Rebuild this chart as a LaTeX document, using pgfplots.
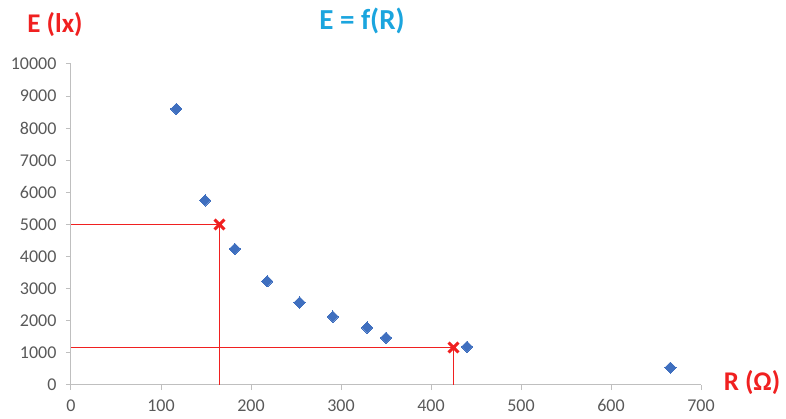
\documentclass[border=0pt]{standalone}
\usepackage{fontspec}
\setmainfont{Carlito}
\usepackage{pgfplots}
\pgfplotsset{compat=1.18}
\definecolor{ptblue}{HTML}{3F6FBF}
\definecolor{linered}{HTML}{F02020}
\definecolor{titlecyan}{HTML}{1BA5DE}
\definecolor{ticktext}{HTML}{595959}
\definecolor{axgray}{HTML}{BFBFBF}
\begin{document}
\begin{tikzpicture}
\useasboundingbox (-71pt,-34pt) rectangle (715pt,385pt);
\begin{axis}[
  at={(0,0)}, anchor=south west,
  width=630pt, height=321pt, scale only axis,
  xmin=0, xmax=700, ymin=0, ymax=10000,
  xtick={0,100,...,700}, ytick={0,1000,...,10000},
  axis x line=bottom, axis y line=left,
  axis line style={-, draw=axgray, line width=1pt},
  tick style={draw=axgray, line width=1pt},
  tick align=outside, major tick length=5pt,
  tick label style={font=\fontsize{18}{22}\selectfont, text=ticktext},
  /pgf/number format/assume math mode=true,
  /pgf/number format/1000 sep={},
  scaled y ticks=false,
  xticklabel style={yshift=-6pt},
  yticklabel style={xshift=-6pt},
  clip=false,
]
% reading lines
\addplot[draw=linered, no markers, line width=1.7pt] coordinates {(0,5000) (165,5000) (165,0)};
\addplot[draw=linered, no markers, line width=1.7pt] coordinates {(0,1170) (425,1170) (425,0)};
% measurements
\addplot[only marks, mark=square*, mark size=4pt, mark options={rotate=45, fill=ptblue, draw=ptblue, line width=0pt}] coordinates {
  (117,8600) (149,5750) (182,4240) (218,3230) (254,2570)
  (291,2130) (329,1790) (350,1470) (440,1190) (666,540)
};
% read points
\addplot[only marks, mark=x, mark size=7pt, mark options={draw=linered, line width=3pt}] coordinates {(165,5000) (425,1170)};
\end{axis}
\node[text=linered, font=\fontsize{27}{31}\selectfont\bfseries] at (-16pt,360pt) {E (lx)};
\node[text=titlecyan, font=\fontsize{29}{33}\selectfont\bfseries] at (291pt,364pt) {E = f(R)};
\node[text=linered, font=\fontsize{27}{31}\selectfont\bfseries] at (681pt,2pt) {R (Ω)};
\end{tikzpicture}
\end{document}
